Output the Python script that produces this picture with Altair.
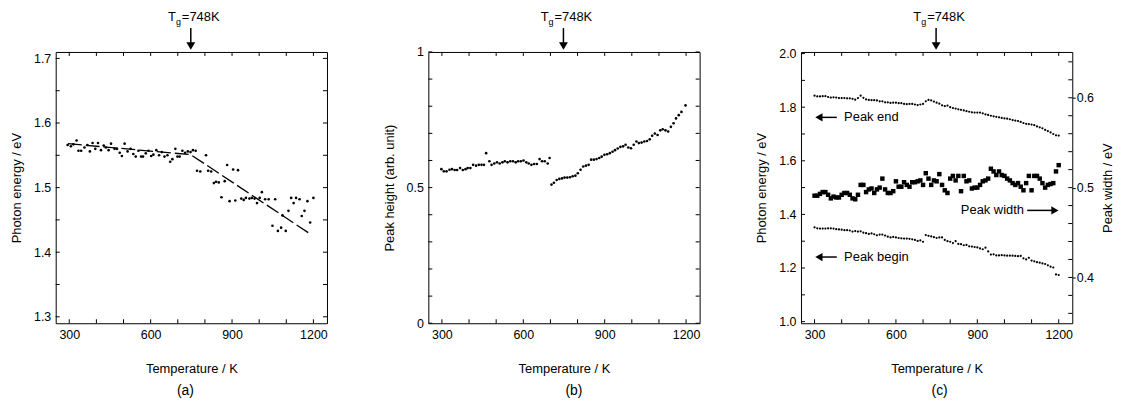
import altair as alt
import pandas as pd

FONT = "Liberation Sans"
W = 273
H = 273
TICK = 4
TG = 748

# ---------------- data ----------------
# (a) Photon energy of peak vs temperature
a_T = [294, 306, 315, 327, 334, 344, 356, 367, 376, 386, 396, 406, 417, 427, 435, 445, 454, 467, 476, 486,
       494, 504, 515, 526, 536, 545, 555, 565, 572, 582, 592, 602, 610, 621, 631, 641, 651, 662, 672, 680,
       691, 699, 707, 717, 727, 737, 747, 756, 766,
       771, 783, 804, 812, 823, 833, 841, 851, 861, 873, 882, 891, 904, 912, 922, 934, 943, 951, 964, 973,
       983, 992, 1002, 1010, 1022, 1035, 1049, 1059, 1069, 1081, 1086, 1098, 1108, 1118, 1127, 1136, 1149,
       1157, 1167, 1178, 1188, 1200]
a_E = [1.566, 1.564, 1.567, 1.573, 1.557, 1.557, 1.562, 1.566, 1.556, 1.569, 1.560, 1.569, 1.558, 1.565, 1.562,
       1.558, 1.568, 1.560, 1.560, 1.554, 1.549, 1.568, 1.556, 1.560, 1.552, 1.548, 1.557, 1.548, 1.548, 1.553,
       1.557, 1.549, 1.551, 1.558, 1.550, 1.555, 1.548, 1.550, 1.540, 1.544, 1.560, 1.548, 1.548, 1.557, 1.554,
       1.556, 1.555, 1.558, 1.557,
       1.526, 1.525, 1.550, 1.526, 1.525, 1.507, 1.509, 1.508, 1.485, 1.510, 1.535, 1.479, 1.528, 1.480, 1.527,
       1.483, 1.481, 1.484, 1.483, 1.484, 1.483, 1.476, 1.484, 1.493, 1.482, 1.482, 1.441, 1.482, 1.433, 1.438,
       1.457, 1.433, 1.464, 1.484, 1.476, 1.484, 1.482, 1.456, 1.464, 1.479, 1.446, 1.484]
a_fit_T = [295, 748, 1182]
a_fit_E = [1.568, 1.551, 1.430]

# (b) Peak height vs temperature (two branches)
b_T1 = [298, 307, 317, 328, 337, 347, 356, 367, 377, 387, 395, 405, 415, 426, 436, 446, 455, 463, 475, 483,
        493, 503, 513, 523, 532, 542, 552, 562, 572, 581, 591, 601, 611, 620, 630, 640, 650, 660, 669, 679,
        690, 697]
b_H1 = [0.568, 0.560, 0.560, 0.566, 0.568, 0.565, 0.565, 0.572, 0.565, 0.568, 0.572, 0.572, 0.584, 0.581, 0.584,
        0.584, 0.584, 0.627, 0.597, 0.584, 0.589, 0.593, 0.589, 0.593, 0.597, 0.593, 0.597, 0.597, 0.593, 0.597,
        0.597, 0.600, 0.593, 0.589, 0.584, 0.587, 0.587, 0.605, 0.597, 0.597, 0.589, 0.609]
b_T2 = [704, 713, 723, 733, 743, 752, 762, 772, 782, 792, 801, 811, 821, 831, 841, 850, 860, 870, 880, 889,
        899, 909, 919, 929, 938, 948, 958, 968, 977, 987, 997, 1007, 1017, 1026, 1036, 1046, 1056, 1066, 1075,
        1085, 1095, 1105, 1114, 1124, 1134, 1144, 1154, 1163, 1173, 1183, 1198]
b_H2 = [0.511, 0.518, 0.528, 0.532, 0.534, 0.537, 0.537, 0.538, 0.542, 0.544, 0.553, 0.566, 0.578, 0.581, 0.584,
        0.603, 0.603, 0.605, 0.609, 0.614, 0.621, 0.623, 0.627, 0.632, 0.638, 0.644, 0.650, 0.652, 0.658, 0.648,
        0.645, 0.658, 0.670, 0.664, 0.666, 0.670, 0.672, 0.678, 0.691, 0.699, 0.694, 0.711, 0.715, 0.711, 0.707,
        0.724, 0.737, 0.755, 0.767, 0.779, 0.803]

# (c) Peak end / begin (left axis) and width (right axis)
c_T = [300, 310, 320, 330, 340, 350, 360, 370, 380, 390, 400, 410, 420, 430, 440, 450, 460, 470, 480, 490,
       500, 510, 520, 530, 540, 550, 560, 570, 580, 590, 600, 610, 620, 630, 640, 650, 660, 670, 680, 690,
       700, 710, 720, 730, 740, 750, 760, 770, 780, 790, 800, 810, 820, 830, 840, 850, 860, 870, 880, 890,
       900, 910, 920, 930, 940, 950, 960, 970, 980, 990, 1000, 1010, 1020, 1030, 1040, 1050, 1060, 1070, 1080,
       1090, 1100, 1110, 1120, 1130, 1140, 1150, 1160, 1170, 1180, 1190, 1200]
c_end = [1.843, 1.840, 1.840, 1.841, 1.841, 1.838, 1.836, 1.837, 1.836, 1.834, 1.834, 1.834, 1.833, 1.833, 1.831,
         1.828, 1.834, 1.843, 1.835, 1.829, 1.827, 1.826, 1.826, 1.825, 1.822, 1.822, 1.818, 1.818, 1.816, 1.817,
         1.817, 1.815, 1.815, 1.812, 1.811, 1.812, 1.812, 1.810, 1.808, 1.810, 1.812, 1.822, 1.827, 1.825, 1.821,
         1.817, 1.813, 1.807, 1.804, 1.806, 1.800, 1.797, 1.795, 1.792, 1.790, 1.788, 1.785, 1.783, 1.781, 1.780,
         1.780, 1.780, 1.777, 1.773, 1.771, 1.768, 1.766, 1.764, 1.762, 1.760, 1.758, 1.757, 1.755, 1.752, 1.750,
         1.748, 1.745, 1.741, 1.738, 1.737, 1.735, 1.733, 1.728, 1.725, 1.721, 1.715, 1.711, 1.706, 1.700, 1.695,
         1.694]
c_begin = [1.352, 1.348, 1.347, 1.347, 1.347, 1.348, 1.348, 1.347, 1.345, 1.344, 1.343, 1.341, 1.341, 1.340, 1.336,
           1.338, 1.336, 1.337, 1.332, 1.330, 1.327, 1.329, 1.326, 1.322, 1.325, 1.325, 1.321, 1.317, 1.314, 1.316,
           1.314, 1.312, 1.311, 1.310, 1.310, 1.309, 1.307, 1.305, 1.301, 1.303, 1.298, 1.323, 1.320, 1.318, 1.315,
           1.312, 1.314, 1.314, 1.305, 1.300, 1.298, 1.293, 1.300, 1.290, 1.289, 1.285, 1.286, 1.281, 1.280, 1.278,
           1.277, 1.273, 1.270, 1.276, 1.262, 1.250, 1.251, 1.247, 1.247, 1.248, 1.247, 1.246, 1.246, 1.246, 1.245,
           1.244, 1.245, 1.236, 1.232, 1.238, 1.228, 1.225, 1.222, 1.220, 1.217, 1.215, 1.210, 1.205, 1.202, 1.176,
           1.174]
c_width = [0.491, 0.491, 0.493, 0.495, 0.495, 0.492, 0.488, 0.490, 0.489, 0.489, 0.492, 0.494, 0.494, 0.492, 0.488,
           0.487, 0.492, 0.503, 0.503, 0.495, 0.498, 0.499, 0.494, 0.498, 0.500, 0.510, 0.498, 0.494, 0.494, 0.496,
           0.507, 0.501, 0.501, 0.506, 0.503, 0.501, 0.506, 0.506, 0.507, 0.508, 0.503, 0.516, 0.510, 0.503, 0.508,
           0.507, 0.515, 0.503, 0.497, 0.494, 0.510, 0.513, 0.508, 0.513, 0.496, 0.513, 0.507, 0.508, 0.499, 0.500,
           0.500, 0.503, 0.507, 0.508, 0.510, 0.521, 0.518, 0.514, 0.518, 0.514, 0.513, 0.510, 0.508, 0.505, 0.503,
           0.505, 0.501, 0.497, 0.505, 0.513, 0.497, 0.513, 0.513, 0.510, 0.505, 0.500, 0.503, 0.504, 0.505, 0.518,
           0.525]

# annotations in (c)
c_lab_left = ["Peak end", "Peak begin"]
c_lab_left_T = [409, 409]
c_lab_left_E = [1.762, 1.241]
c_lab_right = ["Peak width"]
c_lab_right_T = [1072]
c_lab_right_E = [1.415]
c_arrow_T1 = [318, 318, 1084]
c_arrow_T2 = [382, 382, 1184]
c_arrow_E = [1.762, 1.241, 1.415]
c_head_T = [316, 316, 1186]
c_head_dir = ["left", "left", "right"]

# ticks / labels
x_ticks = [300, 400, 500, 600, 700, 800, 900, 1000, 1100, 1200]
x_labels = [300, 600, 900, 1200]
a_yticks = [1.3, 1.35, 1.4, 1.45, 1.5, 1.55, 1.6, 1.65, 1.7]
a_ylabels = [1.3, 1.4, 1.5, 1.6, 1.7]
b_yticks = [0, 0.1, 0.2, 0.3, 0.4, 0.5, 0.6, 0.7, 0.8, 0.9, 1.0]
b_ylabels = [0, 0.5, 1]
c_yticks = [1.0, 1.1, 1.2, 1.3, 1.4, 1.5, 1.6, 1.7, 1.8, 1.9, 2.0]
c_ylabels = [1.0, 1.2, 1.4, 1.6, 1.8, 2.0]
c_wticks = [0.36, 0.38, 0.40, 0.42, 0.44, 0.46, 0.48, 0.50, 0.52, 0.54, 0.56, 0.58, 0.60, 0.62, 0.64]
c_wlabels = [0.4, 0.5, 0.6]

X_DOM = [250, 1250]

# ---------------- helpers ----------------
def xscale():
    return alt.Scale(domain=X_DOM, nice=False, zero=False)


def yscale(dom):
    return alt.Scale(domain=dom, nice=False, zero=False)


def x_axis():
    return alt.Axis(values=x_labels, format="d", title="Temperature / K", ticks=False, tickSize=0,
                    domain=False, grid=False, labelPadding=5, titlePadding=22, labelFontSize=12.5,
                    titleFontSize=13)


def y_axis(values, fmt, title, orient="left"):
    kw = dict(values=values, format=fmt, title=title, orient=orient, ticks=False, tickSize=0,
              domain=False, grid=False, labelPadding=5, titlePadding=10, labelFontSize=12.5,
              titleFontSize=13)
    if orient == "right":
        kw.update(titleAngle=270, titleBaseline="top", ticks=True, tickSize=3, labelPadding=1,
                  tickColor="black", titlePadding=8)
    return alt.Axis(**kw)


def tick_rules_x(vals, xa):
    df = pd.DataFrame({"T": vals})
    base = alt.Chart(df).mark_rule(color="black", strokeWidth=1)
    bottom = base.encode(x=alt.X("T:Q", scale=xscale(), axis=xa),
                         y=alt.value(H), y2=alt.value(H - TICK))
    top = base.encode(x=alt.X("T:Q", scale=xscale(), axis=xa),
                      y=alt.value(0), y2=alt.value(TICK))
    return [bottom, top]


def tick_rules_y(vals, field, dom, ya, sides=("left", "right")):
    df = pd.DataFrame({field: vals})
    base = alt.Chart(df).mark_rule(color="black", strokeWidth=1)
    out = []
    if "left" in sides:
        out.append(base.encode(y=alt.Y(f"{field}:Q", scale=yscale(dom), axis=ya),
                               x=alt.value(0), x2=alt.value(TICK)))
    if "right" in sides:
        out.append(base.encode(y=alt.Y(f"{field}:Q", scale=yscale(dom), axis=ya),
                               x=alt.value(W), x2=alt.value(W - TICK)))
    return out


def tg_marker(xa):
    df = pd.DataFrame({"T": [TG]})
    base = alt.Chart(df).encode(x=alt.X("T:Q", scale=xscale(), axis=xa))
    t1 = base.mark_text(text="T", align="right", baseline="middle", dx=-15, fontSize=13,
                        font=FONT, color="black").encode(y=alt.value(-35))
    t2 = base.mark_text(text="g", align="left", baseline="middle", dx=-15, fontSize=9,
                        font=FONT, color="black").encode(y=alt.value(-30))
    t3 = base.mark_text(text="=748K", align="left", baseline="middle", dx=-9, fontSize=13,
                        font=FONT, color="black").encode(y=alt.value(-35))
    shaft = base.mark_rule(color="black", strokeWidth=1.5).encode(y=alt.value(-24), y2=alt.value(-9))
    head = base.mark_point(shape="triangle-down", filled=True, size=80, color="black",
                           opacity=1).encode(y=alt.value(-6))
    return [t1, t2, t3, shaft, head]


def panel_title(txt, dx):
    return alt.TitleParams(txt, orient="bottom", fontSize=14, font=FONT, fontWeight="normal",
                           color="black", dx=dx, offset=9, frame="group")


XA = x_axis()

# ---------------- panel (a) ----------------
A_DOM = [1.29, 1.71]
YA_A = y_axis(a_ylabels, ".1f", "Photon energy / eV")
df_a = pd.DataFrame({"T": a_T, "E": a_E})
df_afit = pd.DataFrame({"T": a_fit_T, "E": a_fit_E})
a_pts = alt.Chart(df_a).mark_circle(size=7, color="black", opacity=1).encode(
    x=alt.X("T:Q", scale=xscale(), axis=XA),
    y=alt.Y("E:Q", scale=yscale(A_DOM), axis=YA_A),
)
a_fit = alt.Chart(df_afit).mark_line(color="black", strokeWidth=1.3, strokeDash=[14, 4]).encode(
    x=alt.X("T:Q", scale=xscale(), axis=XA),
    y=alt.Y("E:Q", scale=yscale(A_DOM), axis=YA_A),
)
panel_a = alt.layer(
    a_pts, a_fit, *tick_rules_x(x_ticks, XA), *tick_rules_y(a_yticks, "E", A_DOM, YA_A), *tg_marker(XA)
).properties(width=W, height=H, title=panel_title("(a)", -6))

# ---------------- panel (b) ----------------
B_DOM = [0, 1]
YA_B = y_axis(b_ylabels, "~g", "Peak height (arb. unit)")
df_b = pd.DataFrame({"T": b_T1 + b_T2, "Hgt": b_H1 + b_H2})
b_pts = alt.Chart(df_b).mark_circle(size=7, color="black", opacity=1).encode(
    x=alt.X("T:Q", scale=xscale(), axis=XA),
    y=alt.Y("Hgt:Q", scale=yscale(B_DOM), axis=YA_B),
)
panel_b = alt.layer(
    b_pts, *tick_rules_x(x_ticks, XA), *tick_rules_y(b_yticks, "Hgt", B_DOM, YA_B), *tg_marker(XA)
).properties(width=W, height=H, title=panel_title("(b)", 10))

# ---------------- panel (c) ----------------
C_DOM = [0.994, 2.006]
W_DOM = [0.349, 0.651]
YA_C = y_axis(c_ylabels, ".1f", "Photon energy / eV")
YA_W = y_axis(c_wlabels, ".1f", "Peak width / eV", orient="right")
df_end = pd.DataFrame({"T": c_T, "E": c_end})
df_begin = pd.DataFrame({"T": c_T, "E": c_begin})
df_w = pd.DataFrame({"T": c_T, "Wd": c_width})
c_end_pts = alt.Chart(df_end).mark_circle(size=5, color="black", opacity=1).encode(
    x=alt.X("T:Q", scale=xscale(), axis=XA),
    y=alt.Y("E:Q", scale=yscale(C_DOM), axis=YA_C),
)
c_begin_pts = alt.Chart(df_begin).mark_circle(size=5, color="black", opacity=1).encode(
    x=alt.X("T:Q", scale=xscale(), axis=XA),
    y=alt.Y("E:Q", scale=yscale(C_DOM), axis=YA_C),
)
df_lab_l = pd.DataFrame({"T": c_lab_left_T, "E": c_lab_left_E, "txt": c_lab_left})
df_lab_r = pd.DataFrame({"T": c_lab_right_T, "E": c_lab_right_E, "txt": c_lab_right})
lab_l = alt.Chart(df_lab_l).mark_text(align="left", baseline="middle", fontSize=13, font=FONT,
                                      color="black").encode(
    x=alt.X("T:Q", scale=xscale(), axis=XA),
    y=alt.Y("E:Q", scale=yscale(C_DOM), axis=YA_C),
    text="txt:N",
)
lab_r = alt.Chart(df_lab_r).mark_text(align="right", baseline="middle", fontSize=13, font=FONT,
                                      color="black").encode(
    x=alt.X("T:Q", scale=xscale(), axis=XA),
    y=alt.Y("E:Q", scale=yscale(C_DOM), axis=YA_C),
    text="txt:N",
)
df_arr = pd.DataFrame({"T": c_arrow_T1, "T2": c_arrow_T2, "E": c_arrow_E})
df_head = pd.DataFrame({"T": c_head_T, "E": c_arrow_E, "dir": c_head_dir})
shafts = alt.Chart(df_arr).mark_rule(color="black", strokeWidth=1.5).encode(
    x=alt.X("T:Q", scale=xscale(), axis=XA),
    x2="T2:Q",
    y=alt.Y("E:Q", scale=yscale(C_DOM), axis=YA_C),
)
heads = alt.Chart(df_head).mark_point(filled=True, size=70, color="black", opacity=1).encode(
    x=alt.X("T:Q", scale=xscale(), axis=XA),
    y=alt.Y("E:Q", scale=yscale(C_DOM), axis=YA_C),
    shape=alt.Shape("dir:N", scale=alt.Scale(domain=["left", "right"],
                                             range=["triangle-left", "triangle-right"]), legend=None),
)
c_left = alt.layer(
    c_end_pts, c_begin_pts, lab_l, lab_r, shafts, heads,
    *tick_rules_x(x_ticks, XA), *tick_rules_y(c_yticks, "E", C_DOM, YA_C, sides=("left",)), *tg_marker(XA)
)
c_w_pts = alt.Chart(df_w).mark_square(size=20, color="black", opacity=1).encode(
    x=alt.X("T:Q", scale=xscale(), axis=XA),
    y=alt.Y("Wd:Q", scale=yscale(W_DOM), axis=YA_W),
)
c_right = alt.layer(c_w_pts, *tick_rules_y(c_wticks, "Wd", W_DOM, YA_W, sides=("right",)))
panel_c = alt.layer(c_left, c_right).resolve_scale(y="independent").properties(
    width=W, height=H, title=panel_title("(c)", 3))

chart = alt.hconcat(panel_a, panel_b, panel_c, spacing=55).properties(
    padding={"left": 2, "top": 1, "right": 0, "bottom": 0}
).configure_view(
    stroke="black", strokeWidth=1
).configure_axis(
    labelFont=FONT, titleFont=FONT, labelColor="black", titleColor="black", titleFontWeight="normal"
).configure_text(font=FONT)

chart.save("out.html", embed_options={"renderer": "svg", "actions": False})
